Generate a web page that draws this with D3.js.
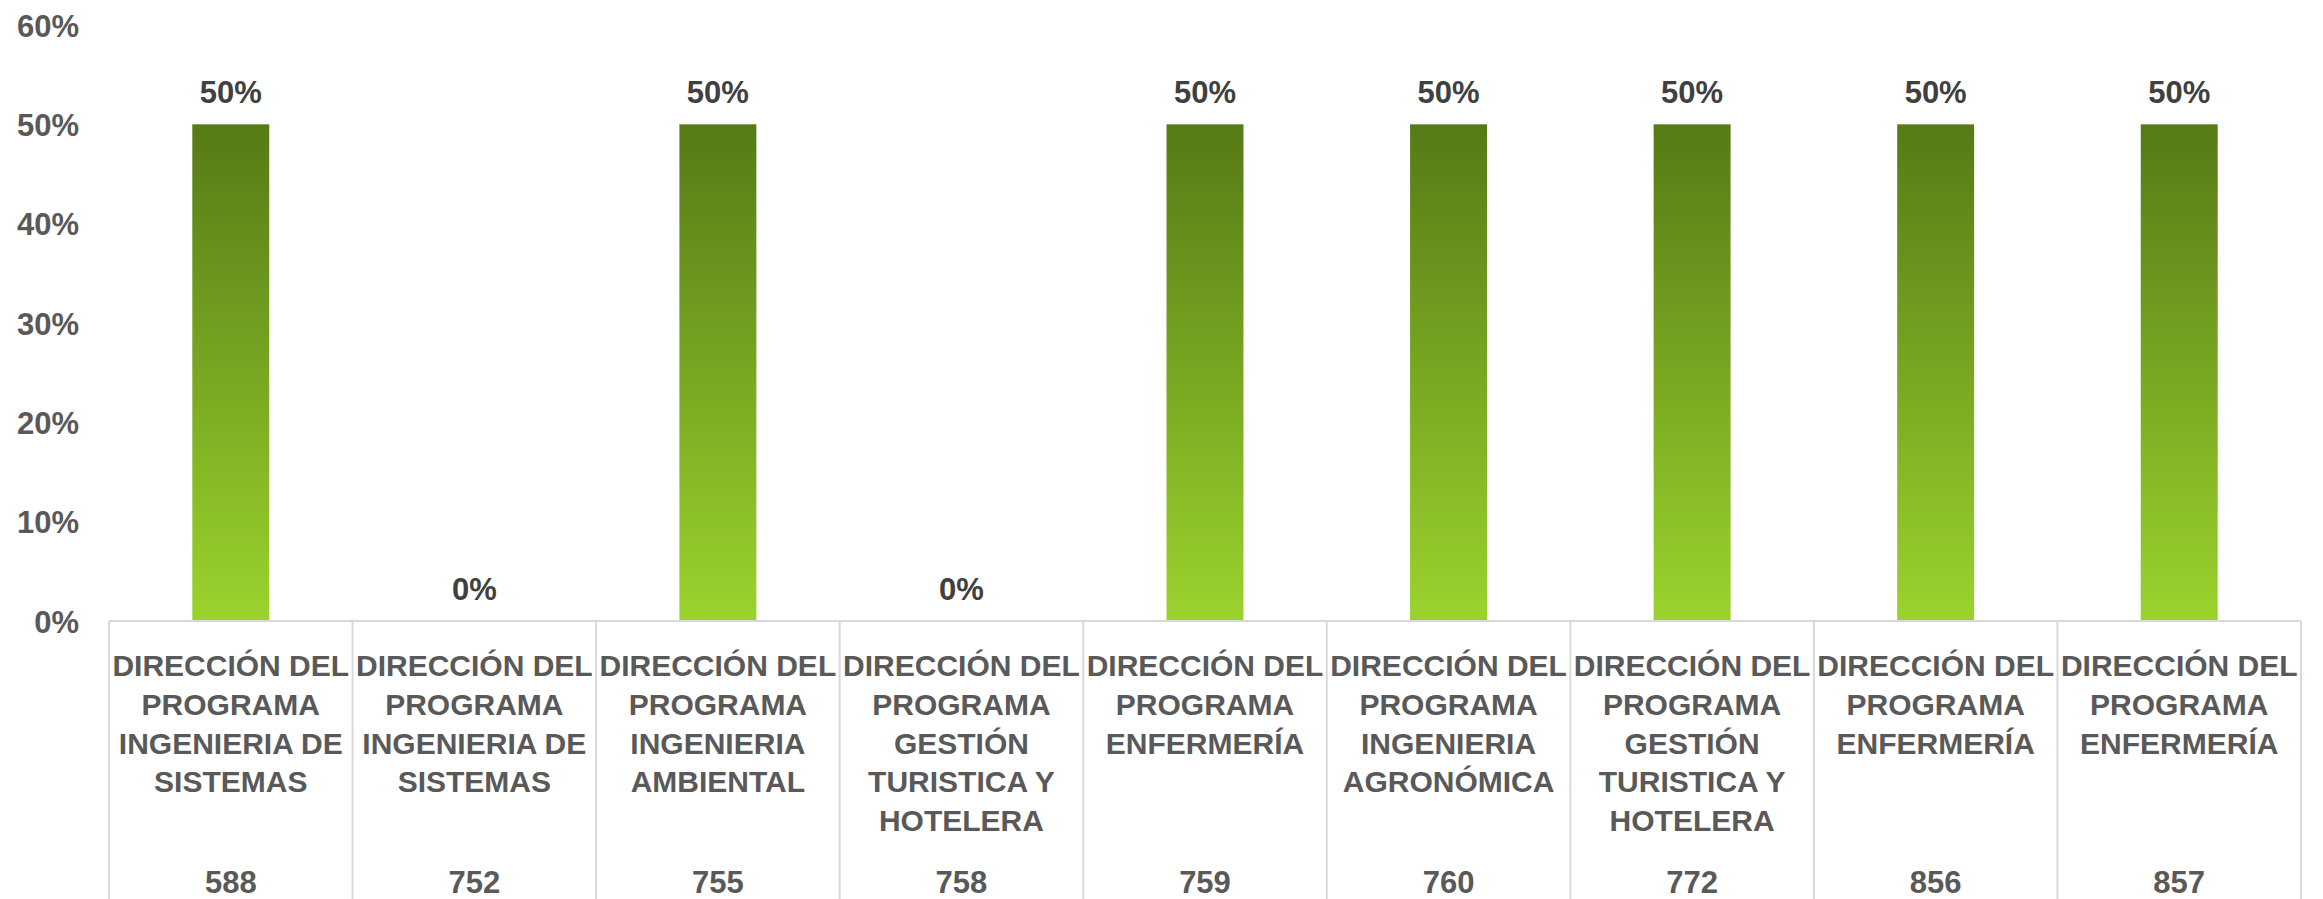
<!DOCTYPE html>
<html><head><meta charset="utf-8">
<script src="https://cdn.jsdelivr.net/npm/d3@7"></script>
<style>
html,body{margin:0;padding:0;background:#fff;}
svg text{font-family:"Liberation Sans",Arial,sans-serif;font-weight:bold;}
</style></head>
<body>
<svg id="chart" width="2323" height="899"></svg>
<script>
const codes = ["588","752","755","758","759","760","772","856","857"];
const categoryLines = [
  ["DIRECCIÓN DEL","PROGRAMA","INGENIERIA DE","SISTEMAS"],
  ["DIRECCIÓN DEL","PROGRAMA","INGENIERIA DE","SISTEMAS"],
  ["DIRECCIÓN DEL","PROGRAMA","INGENIERIA","AMBIENTAL"],
  ["DIRECCIÓN DEL","PROGRAMA","GESTIÓN","TURISTICA Y","HOTELERA"],
  ["DIRECCIÓN DEL","PROGRAMA","ENFERMERÍA"],
  ["DIRECCIÓN DEL","PROGRAMA","INGENIERIA","AGRONÓMICA"],
  ["DIRECCIÓN DEL","PROGRAMA","GESTIÓN","TURISTICA Y","HOTELERA"],
  ["DIRECCIÓN DEL","PROGRAMA","ENFERMERÍA"],
  ["DIRECCIÓN DEL","PROGRAMA","ENFERMERÍA"]
];
const values = [0.5,0,0.5,0,0.5,0.5,0.5,0.5,0.5];
const yTicks = [0,0.1,0.2,0.3,0.4,0.5,0.6];

(function(){
const svg = d3.select("#chart");
const plotLeft = 109, plotRight = 2301, plotTop = 25, axisY = 621;

const x = d3.scaleBand().domain(codes).range([plotLeft, plotRight]).padding(0);
const xb = d3.scaleBand().domain(codes).range([plotLeft, plotRight]).paddingInner(0.684).paddingOuter(0.342);
const y = d3.scaleLinear().domain([0, 0.6]).range([axisY, plotTop]);

const defs = svg.append("defs");
const grad = defs.append("linearGradient").attr("id","barGrad")
  .attr("x1","0").attr("y1","0").attr("x2","0").attr("y2","1");
grad.append("stop").attr("offset","0%").attr("stop-color","#567a16");
grad.append("stop").attr("offset","100%").attr("stop-color","#9bd32d");

const fmt = d3.format(".0%");

const yAxis = d3.axisLeft(y).tickValues(yTicks).tickFormat(fmt).tickSize(0).tickPadding(0);
const yg = svg.append("g").attr("transform", `translate(79,0)`).call(yAxis);
yg.select(".domain").remove();
yg.selectAll("text").attr("font-size", 31).attr("fill", "#595959")
  .attr("font-family", '"Liberation Sans",Arial,sans-serif').attr("font-weight","bold").attr("dy","0.36em");

svg.append("g").selectAll("rect").data(values).join("rect")
  .attr("x", (d,i) => xb(codes[i]))
  .attr("width", xb.bandwidth())
  .attr("y", d => y(d))
  .attr("height", d => axisY - y(d))
  .attr("fill", "url(#barGrad)");

svg.append("g").selectAll("text").data(values).join("text")
  .attr("x", (d,i) => xb(codes[i]) + xb.bandwidth()/2)
  .attr("y", d => y(d) - 21)
  .attr("text-anchor","middle")
  .attr("font-size", 31)
  .attr("fill", "#404040")
  .text(d => fmt(d));

const axisColor = "#d9d9d9";
svg.append("line").attr("x1", plotLeft).attr("x2", plotRight).attr("y1", axisY).attr("y2", axisY)
  .attr("stroke", axisColor).attr("stroke-width", 2);
const bounds = codes.map(c => x(c)).concat([plotRight]);
svg.append("g").selectAll("line").data(bounds).join("line")
  .attr("x1", d => d).attr("x2", d => d)
  .attr("y1", axisY).attr("y2", 899)
  .attr("stroke", axisColor).attr("stroke-width", 2);

const cg = svg.append("g");
codes.forEach((c, i) => {
  const cx = x(c) + x.bandwidth()/2;
  const t = cg.append("text").attr("text-anchor","middle").attr("font-size", 30).attr("fill","#595959");
  categoryLines[i].forEach((ln, j) => {
    t.append("tspan").attr("x", cx).attr("y", 676 + j*38.8).text(ln);
  });
  cg.append("text").attr("x", cx).attr("y", 893).attr("text-anchor","middle")
    .attr("font-size", 31).attr("fill","#595959").text(c);
});
})();
</script>
</body></html>
